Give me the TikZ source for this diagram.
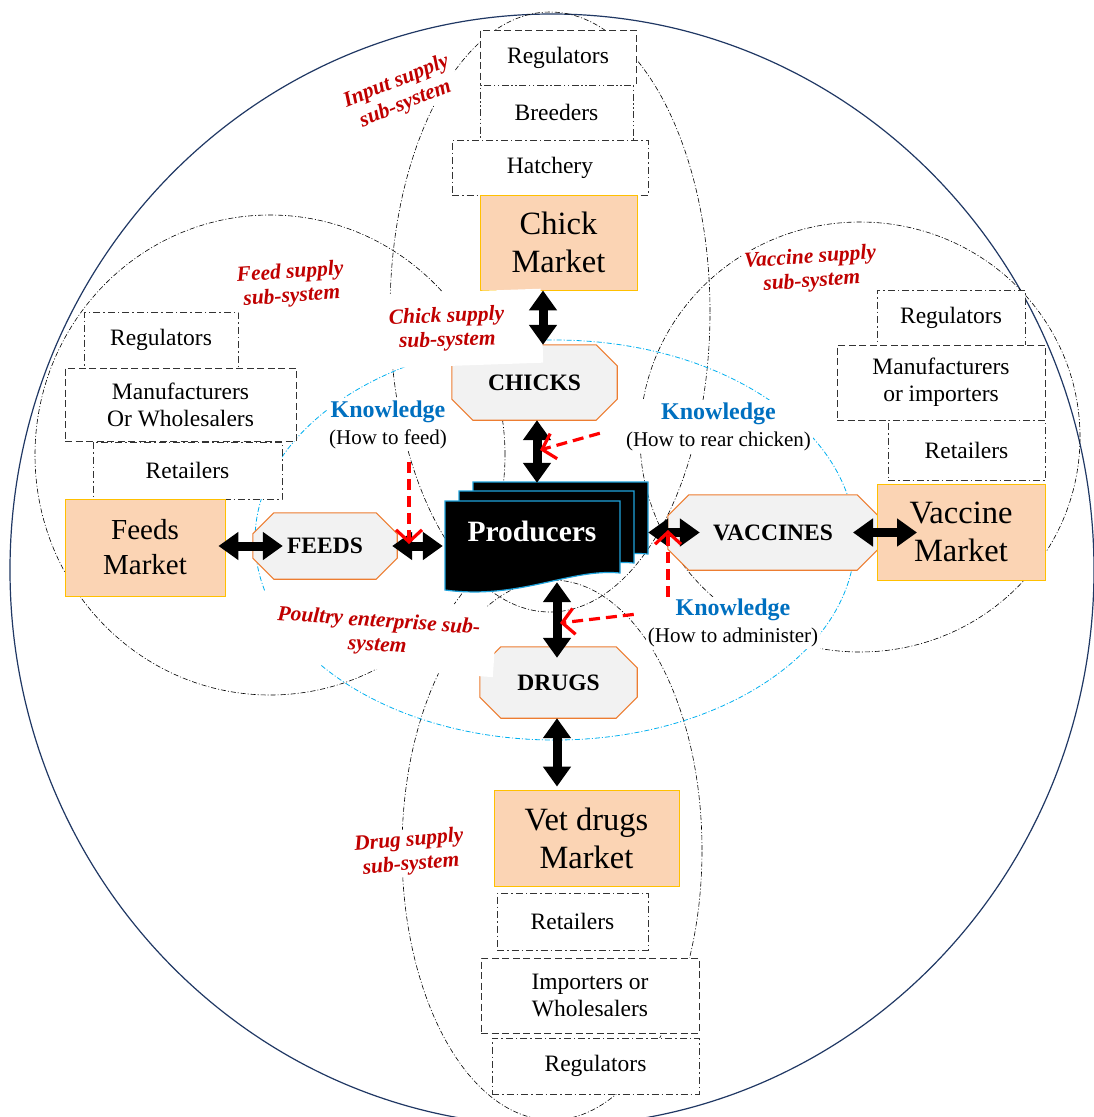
\documentclass[tikz,border=0pt]{standalone}
\usepackage{fontspec}
\setmainfont{Liberation Serif}
\usetikzlibrary{arrows.meta,calc}

\definecolor{navy}{HTML}{203864}
\definecolor{peach}{HTML}{FBD4B4}
\definecolor{gold}{HTML}{FFC000}
\definecolor{octfill}{HTML}{F2F2F2}
\definecolor{octline}{HTML}{ED7D31}
\definecolor{cyanline}{HTML}{00B0F0}
\definecolor{sysred}{HTML}{C00000}
\definecolor{knowblue}{HTML}{0070C0}
\definecolor{pagecyan}{HTML}{1FA3DC}

\tikzset{
  actor/.style={draw=black!80, line width=1pt, fill=white, inner sep=0pt, align=center,
    font=\fontsize{23.5}{27}\selectfont},
  dashbox/.style={actor, dash pattern=on 7pt off 3.5pt},
  dotbox/.style={actor, dash pattern=on 7pt off 3pt on 1.5pt off 3pt},
  dotdotbox/.style={actor, dash pattern=on 7pt off 2.5pt on 1.5pt off 2.5pt on 1.5pt off 2.5pt},
  market/.style={draw=gold, line width=0.9pt, fill=peach, inner sep=0pt, align=center,
    font=\fontsize{32.5}{38}\selectfont},
  flowframe/.style={rectangle, inner sep=0pt},
  flowtext/.style={inner sep=0pt, font=\bfseries\fontsize{23.5}{26}\selectfont},
  octo/.style={draw=octline, line width=1.1pt, fill=octfill},
  link/.style={line width=9pt, {Triangle[width=27pt,length=20pt]}-{Triangle[width=27pt,length=20pt]}},
  hint/.style={red, line width=3.2pt, dash pattern=on 11pt off 6pt,
    -{Straight Barb[length=12pt,width=26pt]}},
  know/.style={fill=white, inner sep=2pt, align=center, font=\fontsize{21}{27}\selectfont},
  sys/.style={text=sysred, fill=white, inner sep=2pt, align=center,
    font=\bfseries\itshape\fontsize{21.5}{24}\selectfont},
  ring/.style={line width=0.6pt, dash pattern=on 5pt off 2pt on 1pt off 2pt},
}

% chamfered outline around a named frame node
\newcommand\chamfer[1]{%
  \filldraw[octo] ($(#1.north west)+(21,0)$) -- ($(#1.north east)+(-21,0)$)
    -- ($(#1.north east)+(0,21)$) -- ($(#1.south east)+(0,-21)$)
    -- ($(#1.south east)+(-21,0)$) -- ($(#1.south west)+(21,0)$)
    -- ($(#1.south west)+(0,-21)$) -- ($(#1.north west)+(0,21)$) -- cycle;}

\begin{document}
\begin{tikzpicture}[x=1pt,y=-1pt]
\useasboundingbox (0,0) rectangle (1094,1117);
\clip (0,0) rectangle (1094,1117);
\fill[white] (0,0) rectangle (1094,1117);

% whole system boundary
\draw[navy, line width=1.2pt] (552,570) ellipse [x radius=542pt, y radius=556pt];

% sub-system boundaries
\draw[ring] (270,455) ellipse [x radius=235pt, y radius=240pt];
\draw[ring] (860,437) ellipse [x radius=220pt, y radius=215pt];
\draw[ring] (550,312) ellipse [x radius=160pt, y radius=300pt];
\draw[ring] (552,850) ellipse [x radius=150pt, y radius=270pt];
\draw[ring, cyanline, line width=0.8pt] (555,540) ellipse [x radius=300pt, y radius=200pt];

% chick supply chain
\node[dashbox, minimum width=156pt, minimum height=55pt] (tReg) at (558,57.5) {Regulators};
\node[dotdotbox, minimum width=153pt, minimum height=55pt] (tBreed) at (556.5,112.5) {Breeders};
\node[dotbox, minimum width=196pt, minimum height=55pt] (tHatch) at (550,167.5) {Hatchery};
\node[market, minimum width=157pt, minimum height=95pt] (chickMkt) at (558.5,242.5) {Chick\\Market};

% feed supply chain
\node[dotbox, minimum width=154pt, minimum height=56pt] (lReg) at (161,340) {Regulators};
\node[dashbox, minimum width=231pt, minimum height=73pt] (lMan) at (180.5,404.5) {Manufacturers\\Or Wholesalers};
\node[dotbox, minimum width=189pt, minimum height=57pt] (lRet) at (187.5,470.5) {Retailers};
\node[market, minimum width=160pt, minimum height=97pt, font=\fontsize{29}{35}\selectfont] (feedMkt) at (145,547.5) {Feeds\\Market};

% vaccine supply chain
\node[dotbox, minimum width=148pt, minimum height=55pt] (rReg) at (951,317.5) {Regulators};
\node[dashbox, minimum width=208pt, minimum height=75pt] (rMan) at (941,382.5) {Manufacturers\\or importers};
\node[dotbox, minimum width=157pt, minimum height=60pt] (rRet) at (966.5,450) {Retailers};

% drug supply chain
\node[market, minimum width=185pt, minimum height=96pt] (drugMkt) at (586.5,838) {Vet drugs\\Market};
\node[dotbox, minimum width=151pt, minimum height=57pt] (bRet) at (572.5,921.5) {Retailers};
\node[dashbox, minimum width=218pt, minimum height=75pt] (bImp) at (590,995.5) {Importers or\\Wholesalers};
\node[dotbox, minimum width=207pt, minimum height=56pt] (bReg) at (595.5,1066) {Regulators};

% inputs reaching the farm
\node[flowframe, minimum width=165pt, minimum height=75pt] (chicks) at (534.5,382.5) {};
\node[flowframe, minimum width=144pt, minimum height=66pt] (feeds) at (325,546) {};
\node[flowframe, minimum width=210pt, minimum height=75pt] (vaccines) at (773,532.5) {};
\node[flowframe, minimum width=157pt, minimum height=71pt] (drugs) at (558.5,682.5) {};
\chamfer{chicks}
\chamfer{feeds}
\chamfer{vaccines}
\chamfer{drugs}
\node[flowtext] (chicksText) at (chicks) {CHICKS};
\node[flowtext] (feedsText) at (feeds) {FEEDS};
\node[flowtext] (vaccinesText) at (vaccines) {VACCINES};
\node[flowtext] (drugsText) at (drugs) {DRUGS};
\node[market, minimum width=168pt, minimum height=96pt] (vacMkt) at (961,532) {Vaccine\\Market};

% producers: a stack of three pages
\foreach \dx/\dy in {28/-19, 14/-10, 0/0} {
  \filldraw[fill=black, draw=pagecyan, line width=1.2pt, shift={(\dx,\dy)}]
    (445,501) -- (620,501) -- (620,573) .. controls (570,568) and (520,600) .. (445,590) -- cycle;
}
\node[inner sep=0pt, minimum width=175pt, minimum height=91pt] (prod) at (532.5,546.5) {};
\node[inner sep=0pt, minimum width=175pt, minimum height=75pt] (prodBack) at (560.5,519.5) {};
\node[text=white, font=\bfseries\fontsize{29.5}{32}\selectfont] (prodText) at (532,531) {Producers};

% sub-system names
\node[sys, rotate=22] (inSup) at (401,93) {Input supply\\sub-system};
\node[sys, rotate=4] (feedSup) at (291,285) {Feed supply\\sub-system};
\node[sys, rotate=2, minimum width=190pt, minimum height=74pt] (chickSup) at (447,329) {Chick supply\\sub-system};
\node[sys, rotate=4] (vacSup) at (811,270) {Vaccine supply\\sub-system};
\node[sys, rotate=-4, minimum width=235pt, minimum height=70pt] (entSup) at (378,634) {Poultry enterprise sub-\\system};
\node[sys, rotate=5] (drugSup) at (410,853) {Drug supply\\sub-system};

% knowledge flows
\node[know] (kFeed) at (388,424.5) {{\color{knowblue}\bfseries\fontsize{24}{27}\selectfont Knowledge}\\(How to feed)};
\node[know] (kChick) at (718.5,426.5) {{\color{knowblue}\bfseries\fontsize{24}{27}\selectfont Knowledge}\\(How to rear chicken)};
\node[know] (kDrug) at (733,623) {{\color{knowblue}\bfseries\fontsize{24}{27}\selectfont Knowledge}\\(How to administer)};

% material flows
\draw[link] ([xshift=-15.5pt]chickMkt.south) -- ([xshift=8.5pt]chicks.north);
\draw[link, shorten >=-1pt] ([xshift=2.5pt]chicks.south) -- ([xshift=-23.5pt]prodBack.north);
\draw[link, shorten <=-7pt, shorten >=-30pt] (feedMkt.east |- feeds.west) -- (feeds.west);
\draw[link, shorten <=-5pt, shorten >=2pt] (feeds.east) -- (prod.west |- feeds.east);
\draw[link, shorten >=-32pt] (prodBack.east |- vaccines.west) -- (vaccines.west);
\draw[link, shorten <=80pt, shorten >=44pt] (vaccines.center) -- (vaccines.center -| vacMkt.center);
\draw[link, shorten <=-10pt, shorten >=-11pt] ([xshift=24.5pt]prod.south) -- ([xshift=-1.5pt]drugs.north);
\draw[link, shorten >=3pt] ([xshift=-1.5pt]drugs.south) -- ([xshift=-29.5pt]drugMkt.north);

% knowledge arrows
\coordinate (tipFeed) at (409,544);
\coordinate (tipChick) at (540,450);
\coordinate (tipDrug) at (560,623);
\coordinate (tipVac) at (668,530);
\draw[hint, shorten <=11pt] (kFeed.south -| tipFeed) -- (tipFeed);
\draw[hint, shorten <=25pt] (kChick.west) -- (tipChick);
\draw[hint, shorten <=12pt] ([yshift=10pt]kDrug.west) -- (tipDrug);
\draw[hint] (kDrug.north -| tipVac) -- (tipVac);
\end{tikzpicture}
\end{document}
